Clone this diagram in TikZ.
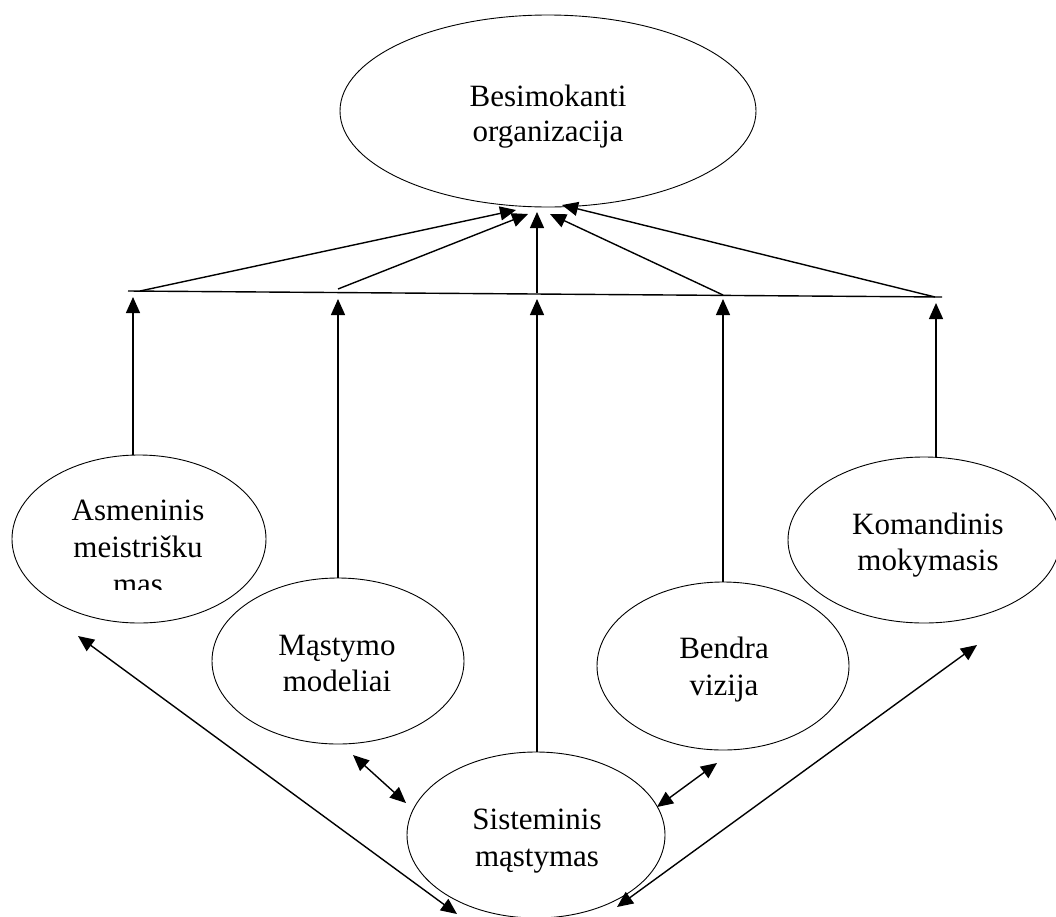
\documentclass[tikz,border=0pt]{standalone}
\usepackage{fontspec}
\setmainfont{Liberation Serif}
\usetikzlibrary{shapes.geometric,arrows.meta}
\begin{document}
\begin{tikzpicture}[x=1pt,y=-1pt,
  oval/.style={draw,ellipse,line width=0.9pt,inner sep=0pt},
  txt/.style={anchor=base,inner sep=0pt,font=\fontsize{31}{36}\selectfont},
  arr/.style={line width=1.4pt,-{Triangle[length=16pt,width=14pt]}},
  darr/.style={line width=1.4pt,{Triangle[length=16pt,width=14pt]}-{Triangle[length=16pt,width=14pt]}},
  plain/.style={line width=1.4pt}]
\useasboundingbox (0,0) rectangle (1056,916);
% ellipses
\node[oval,minimum width=416pt,minimum height=192pt] (top) at (548,111) {};
\node[oval,minimum width=254pt,minimum height=168pt] (asm) at (139,539) {};
\node[oval,minimum width=252pt,minimum height=166pt] (mas) at (338,661) {};
\node[oval,minimum width=252pt,minimum height=168pt] (ben) at (723,666) {};
\node[oval,minimum width=272pt,minimum height=166pt] (kom) at (924,540) {};
\node[oval,minimum width=258pt,minimum height=166pt] (sis) at (536,835) {};
% texts
\node[txt] (t1) at (548,106) {Besimokanti};
\node[txt] (t2) at (548,141) {organizacija};
\node[txt] (a1) at (138,520) {Asmeninis};
\node[txt] (a2) at (138,557) {meistrišku};
\begin{scope}
\clip (0,560) rectangle (300,589.5);
\node[txt] (a3) at (138,594) {mas};
\end{scope}
\node[txt] (m1) at (337,655) {Mąstymo};
\node[txt] (m2) at (337,691) {modeliai};
\node[txt] (b1) at (724,658) {Bendra};
\node[txt] (b2) at (724,695) {vizija};
\node[txt] (k1) at (928,534) {Komandinis};
\node[txt] (k2) at (928,570) {mokymasis};
\node[txt] (s1) at (537,829) {Sisteminis};
\node[txt] (s2) at (537,866) {mąstymas};
% horizontal bar
\coordinate (hl) at (128,291);
\coordinate (hr) at (942,297);
\draw[plain] (hl) -- (hr);
% sources on bar
\coordinate (p1) at (140,291);
\coordinate (p2) at (338,289);
\coordinate (p3) at (537,293);
\coordinate (p4) at (723,295);
\coordinate (p5) at (935,297);
% tips at top ellipse
\coordinate (q1) at (516,210);
\coordinate (q2) at (528,214);
\coordinate (q3) at (537,212);
\coordinate (q4) at (550,214);
\coordinate (q5) at (562,205);
\draw[arr] (p1) -- (q1);
\draw[arr] (p2) -- (q2);
\draw[arr] (p3) -- (q3);
\draw[arr] (p4) -- (q4);
\draw[arr] (p5) -- (q5);
% vertical arrows to bar
\coordinate (v1) at (133,297);
\coordinate (v2) at (338,299);
\coordinate (v3) at (537,299);
\coordinate (v4) at (723,299);
\coordinate (v5) at (936,303);
\draw[arr] (asm.north -| v1) -- (v1);
\draw[arr] (mas.north) -- (v2);
\draw[arr] (sis.north -| v3) -- (v3);
\draw[arr] (ben.north) -- (v4);
\draw[arr] (kom.north -| v5) -- (v5);
% double arrows
\coordinate (d1a) at (353,755);
\coordinate (d1b) at (406,803);
\coordinate (d2a) at (717,763);
\coordinate (d2b) at (657,807);
\coordinate (d3a) at (78,636);
\coordinate (d3b) at (457,914);
\coordinate (d4a) at (977,645);
\coordinate (d4b) at (617,907);
\draw[darr] (d1a) -- (d1b);
\draw[darr] (d2a) -- (d2b);
\draw[darr] (d3a) -- (d3b);
\draw[darr] (d4a) -- (d4b);
\end{tikzpicture}
\end{document}
